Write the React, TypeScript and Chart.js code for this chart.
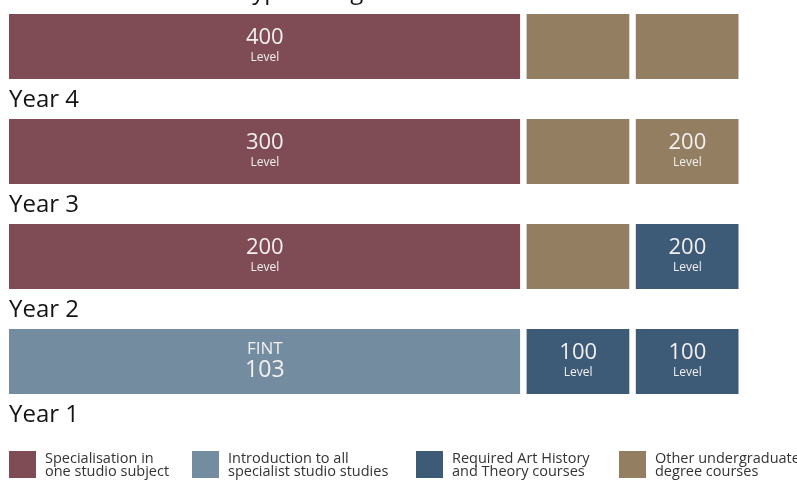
import React, { useEffect, useRef } from "react";
import { Chart, registerables } from "chart.js";

Chart.register(...registerables);

const years = ["Year 4", "Year 3", "Year 2", "Year 1"];
const titleText = "Typical degree structure";

// relative widths of the three course blocks in each year
const slot1Values = [4.74, 4.74, 4.74, 4.74];
const slot2Values = [1, 1, 1, 1];
const slot3Values = [1, 1, 1, 1];

// course type of each block
const slot1Types = ["spec", "spec", "spec", "intro"];
const slot2Types = ["other", "other", "other", "arth"];
const slot3Types = ["other", "other", "arth", "arth"];

// labels written in each block (upper / lower line)
const slot1Upper = ["400", "300", "200", "FINT"];
const slot1Lower = ["Level", "Level", "Level", "103"];
const slot2Upper = ["", "", "", "100"];
const slot2Lower = ["", "", "", "Level"];
const slot3Upper = ["", "200", "200", "100"];
const slot3Lower = ["", "Level", "Level", "Level"];

const legendKeys = ["spec", "intro", "arth", "other"];
const legendLabels = [
  ["Specialisation in", "one studio subject"],
  ["Introduction to all", "specialist studio studies"],
  ["Required Art History", "and Theory courses"],
  ["Other undergraduate", "degree courses"],
];

const typeColors: Record<string, string> = {
  spec: "#7f4c55",
  intro: "#748ca0",
  arth: "#3d5a76",
  other: "#947e61",
};

const FONT = "'Open Sans', 'Noto Sans', sans-serif";

export default function App() {
  const ref = useRef<HTMLCanvasElement | null>(null);

  useEffect(() => {
    if (!ref.current) return;
    const uppers = [slot1Upper, slot2Upper, slot3Upper];
    const lowers = [slot1Lower, slot2Lower, slot3Lower];

    const textPlugin = {
      id: "blockText",
      afterDatasetsDraw(chart: any) {
        const ctx = chart.ctx as CanvasRenderingContext2D;
        ctx.save();
        ctx.textAlign = "center";
        ctx.textBaseline = "middle";
        ctx.fillStyle = "#f2f0f0";
        for (let d = 0; d < 3; d++) {
          const meta = chart.getDatasetMeta(d);
          meta.data.forEach((el: any, i: number) => {
            const cx = (el.x + el.base) / 2;
            const cy = el.y;
            const up = uppers[d][i];
            const low = lowers[d][i];
            if (!up && !low) return;
            if (low === "Level") {
              ctx.font = `22px ${FONT}`;
              ctx.fillText(up, cx, cy - 9);
              ctx.font = `12px ${FONT}`;
              ctx.fillText(low, cx, cy + 11);
            } else {
              ctx.font = `17px ${FONT}`;
              ctx.fillText(up, cx, cy - 12);
              ctx.font = `23px ${FONT}`;
              ctx.fillText(low, cx, cy + 9);
            }
          });
        }
        // year labels under each row
        const meta0 = chart.getDatasetMeta(0);
        ctx.textAlign = "left";
        ctx.textBaseline = "alphabetic";
        ctx.fillStyle = "#141414";
        ctx.font = `24px ${FONT}`;
        meta0.data.forEach((el: any, i: number) => {
          ctx.fillText(years[i], el.base + 3, el.y + el.height / 2 + 28);
        });
        // title (cut at top)
        ctx.textAlign = "center";
        ctx.fillText(titleText, (chart.chartArea.left + chart.chartArea.right) / 2, -1);
        // legend
        const legendX = [9, 192, 416, 619];
        const top = chart.height - 29;
        legendKeys.forEach((k, i) => {
          ctx.fillStyle = typeColors[k];
          ctx.fillRect(legendX[i], top, 27, 27);
          ctx.fillStyle = "#333";
          ctx.font = `14.5px ${FONT}`;
          ctx.textAlign = "left";
          ctx.fillText(legendLabels[i][0], legendX[i] + 36, top + 12);
          ctx.fillText(legendLabels[i][1], legendX[i] + 36, top + 25);
        });
        ctx.restore();
      },
    };

    const mk = (values: number[], types: string[]) => ({
      data: values,
      backgroundColor: types.map((t) => typeColors[t]),
      borderColor: "#ffffff",
      borderWidth: { left: 3, right: 3.5, top: 0, bottom: 0 },
      borderSkipped: false,
      barThickness: 65,
      inflateAmount: 0,
      clip: false as any,
      stack: "row",
    });

    const chart = new Chart(ref.current, {
      type: "bar",
      data: {
        labels: years,
        datasets: [
          mk(slot1Values, slot1Types),
          mk(slot2Values, slot2Types),
          mk(slot3Values, slot3Types),
        ],
      },
      options: {
        indexAxis: "y",
        animation: false,
        responsive: false,
        maintainAspectRatio: false,
        layout: { padding: { left: 6, right: 55, top: 46.5, bottom: 118.5 } },
        scales: {
          x: { stacked: true, min: 0, max: 6.74, display: false },
          y: { stacked: true, display: false, offset: false },
        },
        plugins: {
          legend: { display: false },
          tooltip: { enabled: false },
          title: { display: false },
        },
      },
      plugins: [textPlugin],
    });
    return () => chart.destroy();
  }, []);

  return (
    <div style={{ position: "absolute", left: 0, top: 0, width: 797, height: 480 }}>
      <canvas ref={ref} width={797} height={480} style={{ width: 797, height: 480 }} />
    </div>
  );
}
